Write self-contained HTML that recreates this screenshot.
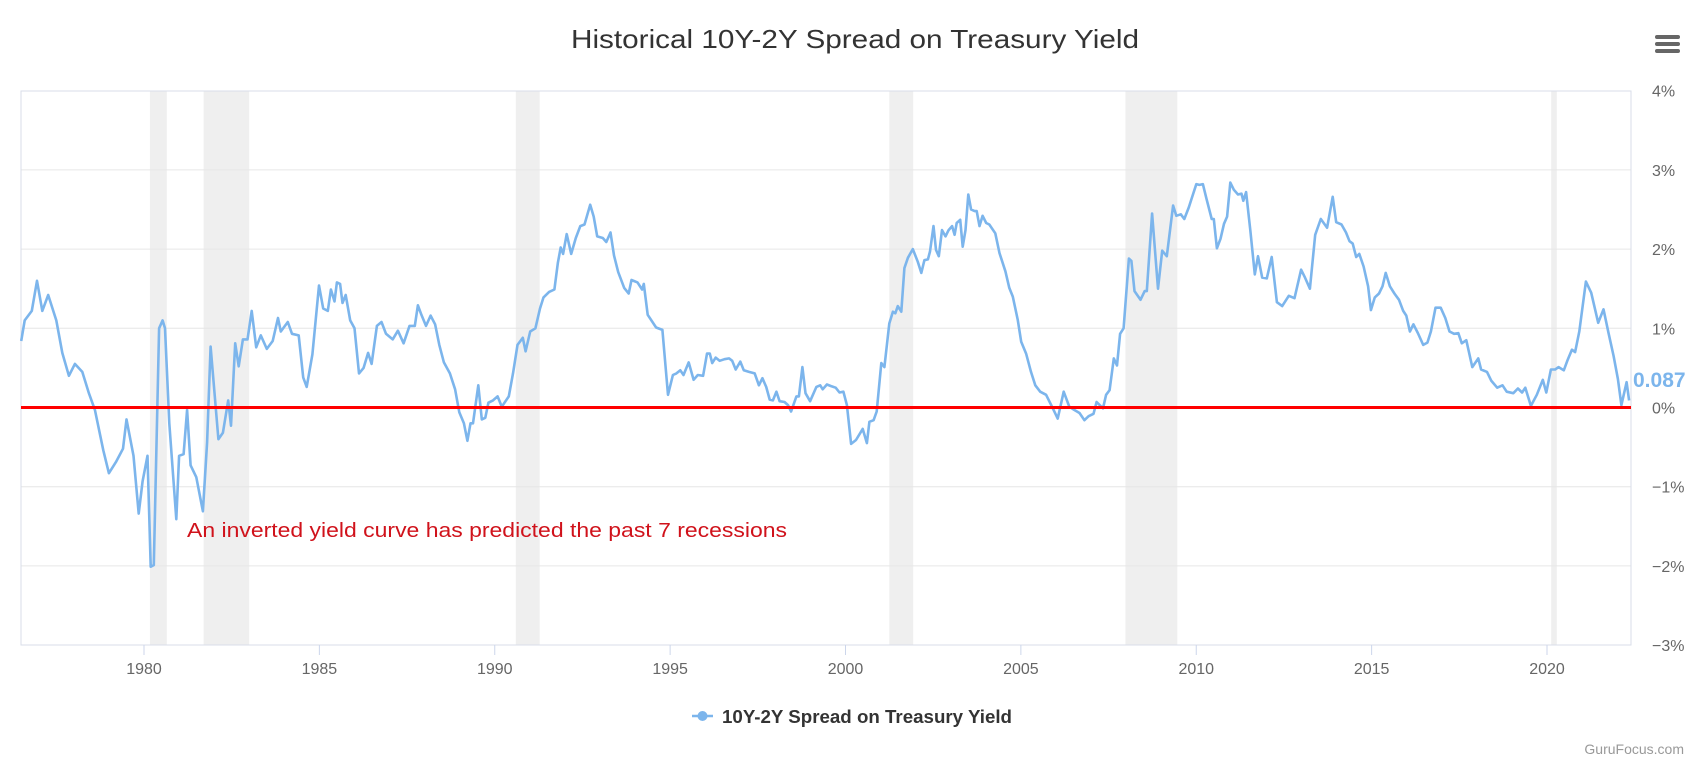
<!DOCTYPE html>
<html><head><meta charset="utf-8"><style>
html,body{margin:0;padding:0;background:#fff;}
svg{display:block;font-family:"Liberation Sans","DejaVu Sans",sans-serif;}
</style></head><body>
<svg id="chart" width="1691" height="764" viewBox="0 0 1691 764" xmlns="http://www.w3.org/2000/svg">
<rect x="0" y="0" width="1691" height="764" fill="#fff"/>
<text x="855" y="48" text-anchor="middle" font-size="26" fill="#333" textLength="568" lengthAdjust="spacingAndGlyphs">Historical 10Y-2Y Spread on Treasury Yield</text>
<g>
<rect x="1655" y="35" width="25" height="4" rx="2" fill="#666"/>
<rect x="1655" y="42" width="25" height="4" rx="2" fill="#666"/>
<rect x="1655" y="49" width="25" height="4" rx="2" fill="#666"/>
</g>
<g id="recessions"></g>
<g id="grid"></g>
<rect x="21" y="91" width="1610" height="554" fill="none" stroke="#d8dee9" stroke-width="1"/>
<g id="xaxis"></g>
<g id="yaxis"></g>
<g id="series"></g>
<text x="187" y="537" font-size="20" fill="#d0121b" textLength="600" lengthAdjust="spacingAndGlyphs">An inverted yield curve has predicted the past 7 recessions</text>
<text x="1633" y="387" font-size="21" font-weight="bold" fill="#7cb5ec">0.087</text>
<g>
<line x1="692" y1="716" x2="713" y2="716" stroke="#7cb5ec" stroke-width="2.5"/>
<circle cx="702.5" cy="716" r="5" fill="#7cb5ec"/>
<text x="722" y="723" font-size="18" font-weight="bold" fill="#333" textLength="290" lengthAdjust="spacingAndGlyphs">10Y-2Y Spread on Treasury Yield</text>
</g>
<text x="1684" y="754" text-anchor="end" font-size="14" fill="#999">GuruFocus.com</text>
</svg>
<script>
const years = [1976.5,1976.6,1976.8,1976.95,1977.1,1977.27,1977.5,1977.67,1977.86,1978.03,1978.24,1978.43,1978.6,1978.84,1979.0,1979.2,1979.4,1979.5,1979.7,1979.85,1979.96,1980.1,1980.19,1980.28,1980.43,1980.53,1980.6,1980.72,1980.92,1981.0,1981.13,1981.23,1981.33,1981.49,1981.68,1981.8,1981.9,1982.12,1982.25,1982.4,1982.48,1982.6,1982.7,1982.82,1982.95,1983.07,1983.2,1983.33,1983.5,1983.67,1983.82,1983.9,1984.1,1984.22,1984.41,1984.54,1984.64,1984.8,1984.99,1985.11,1985.24,1985.33,1985.43,1985.5,1985.59,1985.66,1985.75,1985.88,1986.0,1986.13,1986.26,1986.39,1986.49,1986.64,1986.77,1986.9,1987.09,1987.24,1987.4,1987.57,1987.72,1987.81,1987.91,1988.04,1988.17,1988.3,1988.42,1988.55,1988.72,1988.87,1988.99,1989.12,1989.22,1989.31,1989.38,1989.53,1989.63,1989.73,1989.82,1989.95,1990.08,1990.2,1990.4,1990.52,1990.65,1990.8,1990.88,1991.01,1991.16,1991.29,1991.39,1991.55,1991.7,1991.8,1991.88,1991.95,1992.05,1992.18,1992.31,1992.44,1992.56,1992.72,1992.82,1992.92,1993.08,1993.18,1993.3,1993.4,1993.52,1993.69,1993.82,1993.9,1994.07,1994.2,1994.25,1994.36,1994.6,1994.78,1994.94,1995.08,1995.18,1995.29,1995.38,1995.53,1995.67,1995.79,1995.94,1996.05,1996.13,1996.2,1996.3,1996.41,1996.55,1996.68,1996.77,1996.87,1997.0,1997.1,1997.25,1997.41,1997.53,1997.63,1997.74,1997.84,1997.93,1998.03,1998.12,1998.26,1998.36,1998.45,1998.6,1998.67,1998.77,1998.86,1998.99,1999.17,1999.28,1999.35,1999.47,1999.59,1999.72,1999.83,1999.94,2000.04,2000.16,2000.3,2000.49,2000.61,2000.68,2000.8,2000.89,2001.02,2001.11,2001.25,2001.35,2001.42,2001.49,2001.59,2001.68,2001.78,2001.92,2002.06,2002.16,2002.25,2002.35,2002.41,2002.51,2002.58,2002.66,2002.75,2002.85,2002.94,2003.04,2003.11,2003.17,2003.27,2003.34,2003.42,2003.5,2003.58,2003.68,2003.74,2003.82,2003.91,2004.01,2004.1,2004.27,2004.39,2004.56,2004.67,2004.77,2004.91,2005.01,2005.15,2005.29,2005.41,2005.55,2005.72,2005.91,2006.05,2006.22,2006.38,2006.52,2006.67,2006.81,2006.93,2007.07,2007.16,2007.34,2007.43,2007.53,2007.65,2007.74,2007.83,2007.93,2008.08,2008.15,2008.24,2008.41,2008.53,2008.59,2008.74,2008.91,2009.03,2009.16,2009.34,2009.43,2009.56,2009.66,2009.79,2009.87,2010.0,2010.09,2010.19,2010.29,2010.44,2010.5,2010.59,2010.69,2010.79,2010.88,2010.97,2011.07,2011.19,2011.29,2011.34,2011.42,2011.54,2011.67,2011.76,2011.88,2012.01,2012.15,2012.3,2012.45,2012.64,2012.8,2012.99,2013.1,2013.24,2013.39,2013.55,2013.73,2013.89,2013.99,2014.14,2014.27,2014.37,2014.46,2014.56,2014.65,2014.77,2014.9,2014.98,2015.09,2015.21,2015.31,2015.4,2015.52,2015.65,2015.78,2015.9,2015.99,2016.09,2016.19,2016.32,2016.47,2016.59,2016.69,2016.82,2016.97,2017.1,2017.22,2017.35,2017.47,2017.57,2017.7,2017.87,2018.04,2018.12,2018.29,2018.41,2018.58,2018.73,2018.85,2019.04,2019.17,2019.29,2019.38,2019.54,2019.71,2019.88,2019.98,2020.11,2020.23,2020.33,2020.48,2020.58,2020.71,2020.8,2020.92,2021.11,2021.26,2021.46,2021.61,2021.76,2021.9,2022.02,2022.12,2022.27,2022.34];
const spreadValues = [0.84,1.1,1.22,1.6,1.22,1.42,1.1,0.69,0.4,0.55,0.45,0.18,-0.03,-0.54,-0.83,-0.69,-0.52,-0.15,-0.61,-1.34,-0.93,-0.61,-2.01,-1.99,1.0,1.1,1.0,-0.2,-1.41,-0.61,-0.59,-0.03,-0.73,-0.88,-1.31,-0.44,0.77,-0.4,-0.32,0.09,-0.23,0.81,0.52,0.86,0.86,1.22,0.76,0.91,0.74,0.84,1.13,0.96,1.08,0.93,0.91,0.38,0.26,0.67,1.54,1.25,1.22,1.49,1.34,1.58,1.56,1.32,1.42,1.1,1.0,0.43,0.5,0.69,0.55,1.03,1.08,0.93,0.86,0.97,0.81,1.03,1.03,1.29,1.17,1.03,1.16,1.05,0.79,0.57,0.43,0.23,-0.06,-0.2,-0.42,-0.2,-0.2,0.28,-0.15,-0.13,0.06,0.09,0.14,0.01,0.14,0.43,0.79,0.88,0.71,0.96,1.0,1.25,1.39,1.46,1.49,1.83,2.02,1.94,2.19,1.94,2.14,2.29,2.31,2.56,2.41,2.16,2.14,2.09,2.21,1.92,1.71,1.51,1.44,1.61,1.58,1.49,1.56,1.17,1.01,0.98,0.16,0.41,0.43,0.47,0.41,0.57,0.35,0.41,0.4,0.68,0.68,0.56,0.63,0.59,0.61,0.62,0.59,0.48,0.58,0.47,0.45,0.43,0.28,0.37,0.26,0.1,0.09,0.2,0.08,0.07,0.03,-0.05,0.14,0.14,0.51,0.18,0.08,0.26,0.28,0.23,0.29,0.27,0.25,0.19,0.2,0.03,-0.46,-0.41,-0.27,-0.45,-0.18,-0.16,-0.05,0.56,0.51,1.06,1.21,1.19,1.28,1.21,1.76,1.89,2.0,1.84,1.7,1.86,1.87,1.97,2.29,1.99,1.91,2.24,2.16,2.24,2.29,2.18,2.33,2.37,2.03,2.24,2.69,2.5,2.48,2.48,2.29,2.42,2.33,2.31,2.2,1.95,1.72,1.51,1.4,1.11,0.83,0.68,0.45,0.28,0.2,0.16,-0.01,-0.14,0.2,0.01,-0.03,-0.07,-0.16,-0.11,-0.08,0.07,-0.01,0.16,0.22,0.62,0.53,0.93,1.0,1.88,1.85,1.47,1.36,1.47,1.47,2.45,1.5,1.98,1.91,2.55,2.42,2.44,2.38,2.53,2.64,2.82,2.81,2.82,2.64,2.38,2.38,2.01,2.13,2.32,2.41,2.84,2.75,2.69,2.7,2.61,2.72,2.24,1.68,1.91,1.64,1.63,1.9,1.33,1.28,1.41,1.38,1.74,1.64,1.5,2.18,2.38,2.27,2.66,2.34,2.31,2.21,2.1,2.07,1.9,1.94,1.78,1.53,1.23,1.39,1.44,1.53,1.7,1.53,1.44,1.36,1.22,1.16,0.96,1.05,0.94,0.79,0.82,0.96,1.26,1.26,1.13,0.96,0.93,0.94,0.81,0.85,0.51,0.62,0.48,0.45,0.34,0.25,0.28,0.2,0.18,0.24,0.19,0.25,0.02,0.16,0.35,0.19,0.48,0.48,0.51,0.47,0.59,0.73,0.7,0.96,1.59,1.45,1.07,1.24,0.93,0.65,0.36,0.03,0.32,0.09];
const recessionStarts = [1980.17,1981.7,1990.6,2001.25,2007.98,2020.12];
const recessionEnds = [1980.65,1983.0,1991.28,2001.93,2009.46,2020.28];
const xTickYears = [1980,1985,1990,1995,2000,2005,2010,2015,2020];
const yTickValues = [4,3,2,1,0,-1,-2,-3];
const yTickLabels = ["4%","3%","2%","1%","0%","\u22121%","\u22122%","\u22123%"];
const thresholdValue = [0];

const NS = "http://www.w3.org/2000/svg";
const plotL = 21, plotR = 1631, plotT = 91, plotB = 645;
function xScale(yr){ return 144 + (yr - 1980) * 35.075; }
function yScale(v){ return 407.5 - v * 79.2; }
function mk(tag, attrs, parent){ const e = document.createElementNS(NS, tag); for (const k in attrs) e.setAttribute(k, attrs[k]); parent.appendChild(e); return e; }

const rg = document.getElementById('recessions');
recessionStarts.forEach((s, i) => {
  const r = mk('rect', {x: xScale(s), y: plotT, width: xScale(recessionEnds[i]) - xScale(s), height: plotB - plotT, fill: '#efefef'}, rg);
  
  
});

const gg = document.getElementById('grid');
const ya = document.getElementById('yaxis');
yTickValues.forEach((v, i) => {
  const y = yScale(v);
  if (v !== 4 && v !== -3) {
    const l = mk('line', {x1: plotL, x2: plotR, y1: y, y2: y, stroke: '#e6e6e6', 'stroke-width': 1}, gg);
    
    
  }
  const t = mk('text', {x: 1652, y: y + 6, 'font-size': 16, fill: '#666'}, ya);
  t.textContent = yTickLabels[i];
  
  
});

const xa = document.getElementById('xaxis');
xTickYears.forEach(yr => {
  const x = xScale(yr);
  const tk = mk('line', {x1: x, x2: x, y1: plotB, y2: plotB + 10, stroke: '#ccd6eb', 'stroke-width': 1}, xa);
  
  
  const t = mk('text', {x: x, y: 674, 'font-size': 16, fill: '#666', 'text-anchor': 'middle'}, xa);
  t.textContent = String(yr);
  
  
});

const sg = document.getElementById('series');
const d = years.map((yr, i) => (i ? 'L' : 'M') + xScale(yr).toFixed(1) + ' ' + yScale(spreadValues[i]).toFixed(1)).join(' ');
const path = mk('path', {d: d, fill: 'none', stroke: '#7cb5ec', 'stroke-width': 2.6, 'stroke-linejoin': 'round'}, sg);


const zl = mk('line', {x1: plotL, x2: plotR, y1: yScale(thresholdValue[0]), y2: yScale(thresholdValue[0]), stroke: '#ff0000', 'stroke-width': 3}, sg);


</script>
</body></html>
